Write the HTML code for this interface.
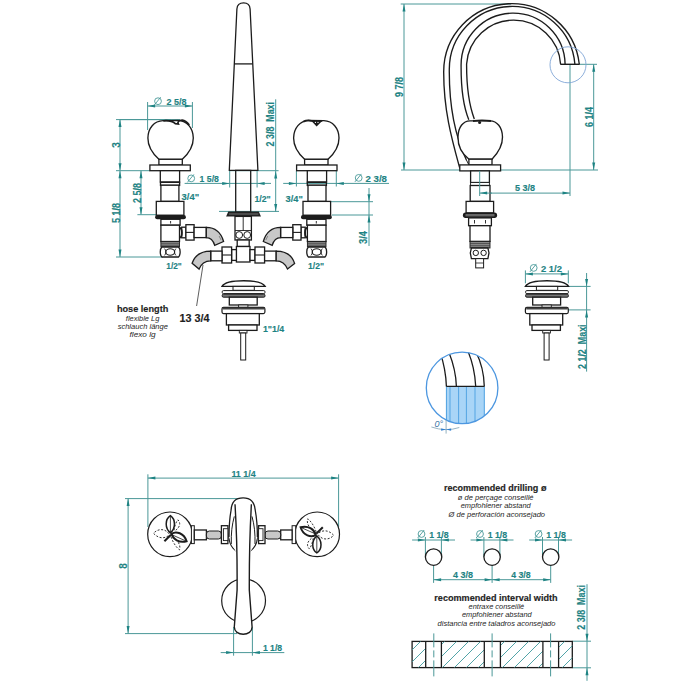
<!DOCTYPE html>
<html><head><meta charset="utf-8"><style>
html,body{margin:0;padding:0;background:#fff;width:700px;height:700px;overflow:hidden}
svg{display:block;font-family:"Liberation Sans",sans-serif}
</style></head><body>
<svg width="700" height="700" viewBox="0 0 700 700">
<line x1="147.6" y1="102.0" x2="147.6" y2="130.0" stroke="#4a9898" stroke-width="1.00" />
<line x1="192.4" y1="102.0" x2="192.4" y2="128.0" stroke="#4a9898" stroke-width="1.00" />
<line x1="147.6" y1="106.0" x2="192.4" y2="106.0" stroke="#4a9898" stroke-width="1.00" />
<polygon points="147.6,106.0 155.1,104.5 155.1,107.5" fill="#1e8383"/>
<polygon points="192.4,106.0 184.9,104.5 184.9,107.5" fill="#1e8383"/>
<circle cx="158.0" cy="101.2" r="3.4" fill="none" stroke="#4a9a9a" stroke-width="0.9"/>
<line x1="154.2" y1="105.2" x2="160.7" y2="97.2" stroke="#4a9a9a" stroke-width="0.90" />
<text x="166.4" y="105.0" font-size="9.50" font-weight="bold" fill="#1e8383" font-style="normal" stroke="#1e8383" stroke-width="0.15" textLength="20.0" lengthAdjust="spacingAndGlyphs">2 5/8</text>
<line x1="116.0" y1="119.6" x2="180.0" y2="119.6" stroke="#4a9898" stroke-width="1.00" />
<line x1="120.0" y1="119.6" x2="170.7" y2="119.6" stroke="#4a9898" stroke-width="1.00" />
<line x1="120.0" y1="119.6" x2="120.0" y2="257.0" stroke="#4a9898" stroke-width="1.00" />
<polygon points="120.0,119.6 118.5,127.1 121.5,127.1" fill="#1e8383"/>
<polygon points="120.0,170.7 118.5,163.2 121.5,163.2" fill="#1e8383"/>
<polygon points="120.0,170.7 118.5,178.2 121.5,178.2" fill="#1e8383"/>
<polygon points="120.0,257.0 118.5,249.5 121.5,249.5" fill="#1e8383"/>
<line x1="116.0" y1="170.7" x2="150.0" y2="170.7" stroke="#4a9898" stroke-width="1.00" />
<text transform="translate(119.6,145.0) rotate(-90)" font-size="10.00" font-weight="bold" fill="#1e8383" text-anchor="middle" stroke="#1e8383" stroke-width="0.15">3</text>
<text transform="translate(119.6,213.0) rotate(-90)" font-size="10.00" font-weight="bold" fill="#1e8383" text-anchor="middle" stroke="#1e8383" stroke-width="0.15" textLength="20.0" lengthAdjust="spacingAndGlyphs">5 1/8</text>
<line x1="116.0" y1="257.0" x2="163.0" y2="257.0" stroke="#4a9898" stroke-width="1.00" />
<line x1="141.0" y1="170.7" x2="141.0" y2="214.7" stroke="#4a9898" stroke-width="1.00" />
<polygon points="141.0,170.7 139.5,178.2 142.5,178.2" fill="#1e8383"/>
<polygon points="141.0,214.7 139.5,207.2 142.5,207.2" fill="#1e8383"/>
<line x1="137.4" y1="214.7" x2="156.0" y2="214.7" stroke="#4a9898" stroke-width="1.00" />
<text transform="translate(140.6,193.0) rotate(-90)" font-size="10.00" font-weight="bold" fill="#1e8383" text-anchor="middle" stroke="#1e8383" stroke-width="0.15" textLength="20.0" lengthAdjust="spacingAndGlyphs">2 5/8</text>
<text x="181.6" y="199.8" font-size="9.50" font-weight="bold" fill="#1e8383" font-style="normal" stroke="#1e8383" stroke-width="0.15" textLength="17.5" lengthAdjust="spacingAndGlyphs">3/4"</text>
<text x="166.3" y="269.1" font-size="9.50" font-weight="bold" fill="#1e8383" font-style="normal" stroke="#1e8383" stroke-width="0.15" textLength="15.5" lengthAdjust="spacingAndGlyphs">1/2"</text>
<line x1="184.6" y1="183.4" x2="271.0" y2="183.4" stroke="#4a9898" stroke-width="1.00" />
<polygon points="229.7,183.4 222.2,181.9 222.2,184.9" fill="#1e8383"/>
<line x1="229.7" y1="171.0" x2="229.7" y2="187.5" stroke="#4a9898" stroke-width="1.00" />
<line x1="257.1" y1="171.0" x2="257.1" y2="187.5" stroke="#4a9898" stroke-width="1.00" />
<polygon points="257.1,183.4 264.6,181.9 264.6,184.9" fill="#1e8383"/>
<circle cx="191.2" cy="178.4" r="3.4" fill="none" stroke="#4a9a9a" stroke-width="0.9"/>
<line x1="187.4" y1="182.4" x2="193.9" y2="174.4" stroke="#4a9a9a" stroke-width="0.90" />
<text x="199.6" y="182.3" font-size="9.50" font-weight="bold" fill="#1e8383" font-style="normal" stroke="#1e8383" stroke-width="0.15" textLength="19.3" lengthAdjust="spacingAndGlyphs">1 5/8</text>
<line x1="229.0" y1="170.7" x2="278.6" y2="170.7" stroke="#4a9898" stroke-width="1.00" />
<line x1="219.0" y1="211.4" x2="279.0" y2="211.4" stroke="#4a9898" stroke-width="1.00" />
<line x1="275.7" y1="99.3" x2="275.7" y2="212.0" stroke="#4a9898" stroke-width="1.00" />
<polygon points="275.7,170.9 274.2,178.4 277.2,178.4" fill="#1e8383"/>
<polygon points="275.7,211.6 274.2,204.1 277.2,204.1" fill="#1e8383"/>
<text transform="translate(273.6,124.2) rotate(-90)" font-size="10.00" font-weight="bold" fill="#1e8383" text-anchor="middle" stroke="#1e8383" stroke-width="0.15" textLength="44.4" lengthAdjust="spacingAndGlyphs">2 3/8&#160;&#160;Maxi</text>
<text x="254.4" y="202.0" font-size="9.50" font-weight="bold" fill="#1e8383" font-style="normal" stroke="#1e8383" stroke-width="0.15" textLength="16.3" lengthAdjust="spacingAndGlyphs">1/2"</text>
<line x1="296.4" y1="171.0" x2="296.4" y2="186.5" stroke="#4a9898" stroke-width="1.00" />
<line x1="336.3" y1="171.0" x2="336.3" y2="186.5" stroke="#4a9898" stroke-width="1.00" />
<line x1="283.2" y1="183.4" x2="389.0" y2="183.4" stroke="#4a9898" stroke-width="1.00" />
<polygon points="296.4,183.4 288.9,181.9 288.9,184.9" fill="#1e8383"/>
<polygon points="336.3,183.4 343.8,181.9 343.8,184.9" fill="#1e8383"/>
<circle cx="358.7" cy="177.9" r="3.4" fill="none" stroke="#4a9a9a" stroke-width="0.9"/>
<line x1="354.9" y1="181.9" x2="361.4" y2="173.9" stroke="#4a9a9a" stroke-width="0.90" />
<text x="365.5" y="181.9" font-size="9.50" font-weight="bold" fill="#1e8383" font-style="normal" stroke="#1e8383" stroke-width="0.15" textLength="21.5" lengthAdjust="spacingAndGlyphs">2 3/8</text>
<text x="285.6" y="202.0" font-size="9.50" font-weight="bold" fill="#1e8383" font-style="normal" stroke="#1e8383" stroke-width="0.15" textLength="17.2" lengthAdjust="spacingAndGlyphs">3/4"</text>
<line x1="331.0" y1="201.7" x2="373.0" y2="201.7" stroke="#4a9898" stroke-width="1.00" />
<line x1="332.0" y1="215.0" x2="373.0" y2="215.0" stroke="#4a9898" stroke-width="1.00" />
<line x1="369.0" y1="188.0" x2="369.0" y2="246.0" stroke="#4a9898" stroke-width="1.00" />
<polygon points="369.0,201.7 367.5,194.2 370.5,194.2" fill="#1e8383"/>
<polygon points="369.0,215.0 367.5,222.5 370.5,222.5" fill="#1e8383"/>
<text transform="translate(367.2,237.5) rotate(-90)" font-size="10.00" font-weight="bold" fill="#1e8383" text-anchor="middle" stroke="#1e8383" stroke-width="0.15" textLength="13.0" lengthAdjust="spacingAndGlyphs">3/4</text>
<text x="308.0" y="269.1" font-size="9.50" font-weight="bold" fill="#1e8383" font-style="normal" stroke="#1e8383" stroke-width="0.15" textLength="16.0" lengthAdjust="spacingAndGlyphs">1/2"</text>
<text x="116.9" y="312.1" font-size="9.50" font-weight="bold" fill="#1e1e1e" font-style="normal" stroke="#1e1e1e" stroke-width="0.15" textLength="51.4" lengthAdjust="spacingAndGlyphs">hose length</text>
<text x="142.6" y="320.7" font-size="7.60" font-weight="normal" fill="#262626" font-style="italic" textLength="33.5" lengthAdjust="spacingAndGlyphs" text-anchor="middle">flexible Lg</text>
<text x="142.8" y="329.0" font-size="7.60" font-weight="normal" fill="#262626" font-style="italic" textLength="50.3" lengthAdjust="spacingAndGlyphs" text-anchor="middle">schlauch länge</text>
<text x="142.6" y="337.3" font-size="7.60" font-weight="normal" fill="#262626" font-style="italic" textLength="26.0" lengthAdjust="spacingAndGlyphs" text-anchor="middle">flexo lg</text>
<text x="179.4" y="321.6" font-size="11.50" font-weight="bold" fill="#1e1e1e" font-style="normal" stroke="#1e1e1e" stroke-width="0.15" textLength="30.0" lengthAdjust="spacingAndGlyphs">13 3/4</text>
<text x="262.9" y="331.8" font-size="9.50" font-weight="bold" fill="#1e8383" font-style="normal" stroke="#1e8383" stroke-width="0.15" textLength="21.4" lengthAdjust="spacingAndGlyphs">1"1/4</text>
<line x1="400.7" y1="4.0" x2="511.0" y2="4.0" stroke="#4a9898" stroke-width="1.00" />
<line x1="404.0" y1="4.0" x2="404.0" y2="170.0" stroke="#4a9898" stroke-width="1.00" />
<polygon points="404.0,4.0 402.5,11.5 405.5,11.5" fill="#1e8383"/>
<polygon points="404.0,170.0 402.5,162.5 405.5,162.5" fill="#1e8383"/>
<line x1="401.0" y1="170.0" x2="598.0" y2="170.0" stroke="#4a9898" stroke-width="1.00" />
<text transform="translate(402.6,87.0) rotate(-90)" font-size="10.00" font-weight="bold" fill="#1e8383" text-anchor="middle" stroke="#1e8383" stroke-width="0.15" textLength="20.0" lengthAdjust="spacingAndGlyphs">9 7/8</text>
<line x1="579.7" y1="64.3" x2="597.0" y2="64.3" stroke="#4a9898" stroke-width="1.00" />
<line x1="593.7" y1="64.3" x2="593.7" y2="170.0" stroke="#4a9898" stroke-width="1.00" />
<polygon points="593.7,64.3 592.2,71.8 595.2,71.8" fill="#1e8383"/>
<polygon points="593.7,170.0 592.2,162.5 595.2,162.5" fill="#1e8383"/>
<text transform="translate(592.6,117.0) rotate(-90)" font-size="10.00" font-weight="bold" fill="#1e8383" text-anchor="middle" stroke="#1e8383" stroke-width="0.15" textLength="20.0" lengthAdjust="spacingAndGlyphs">6 1/4</text>
<line x1="570.0" y1="64.3" x2="570.0" y2="196.0" stroke="#4a9898" stroke-width="1.00" />
<line x1="479.7" y1="170.0" x2="479.7" y2="196.0" stroke="#4a9898" stroke-width="1.00" />
<line x1="479.7" y1="193.1" x2="570.0" y2="193.1" stroke="#4a9898" stroke-width="1.00" />
<polygon points="479.7,193.1 487.2,191.6 487.2,194.6" fill="#1e8383"/>
<polygon points="570.0,193.1 562.5,191.6 562.5,194.6" fill="#1e8383"/>
<text x="515.0" y="191.2" font-size="9.50" font-weight="bold" fill="#1e8383" font-style="normal" stroke="#1e8383" stroke-width="0.15" textLength="20.0" lengthAdjust="spacingAndGlyphs">5 3/8</text>
<line x1="525.4" y1="270.4" x2="525.4" y2="283.3" stroke="#4a9898" stroke-width="1.00" />
<line x1="568.3" y1="270.4" x2="568.3" y2="283.3" stroke="#4a9898" stroke-width="1.00" />
<line x1="525.4" y1="273.9" x2="568.3" y2="273.9" stroke="#4a9898" stroke-width="1.00" />
<polygon points="525.4,273.9 532.9,272.4 532.9,275.4" fill="#1e8383"/>
<polygon points="568.3,273.9 560.8,272.4 560.8,275.4" fill="#1e8383"/>
<circle cx="533.7" cy="267.9" r="3.4" fill="none" stroke="#4a9a9a" stroke-width="0.9"/>
<line x1="529.9" y1="271.9" x2="536.4" y2="263.9" stroke="#4a9a9a" stroke-width="0.90" />
<text x="541.0" y="271.8" font-size="9.50" font-weight="bold" fill="#1e8383" font-style="normal" stroke="#1e8383" stroke-width="0.15" textLength="21.0" lengthAdjust="spacingAndGlyphs">2 1/2</text>
<line x1="568.0" y1="286.4" x2="590.6" y2="286.4" stroke="#4a9898" stroke-width="1.00" />
<line x1="568.0" y1="309.9" x2="590.6" y2="309.9" stroke="#4a9898" stroke-width="1.00" />
<line x1="586.6" y1="273.0" x2="586.6" y2="371.6" stroke="#4a9898" stroke-width="1.00" />
<polygon points="586.6,286.4 585.1,278.9 588.1,278.9" fill="#1e8383"/>
<polygon points="586.6,309.9 585.1,317.4 588.1,317.4" fill="#1e8383"/>
<text transform="translate(585.6,346.7) rotate(-90)" font-size="10.00" font-weight="bold" fill="#1e8383" text-anchor="middle" stroke="#1e8383" stroke-width="0.15" textLength="44.6" lengthAdjust="spacingAndGlyphs">2 1/2&#160;&#160;Maxi</text>
<line x1="147.9" y1="474.3" x2="147.9" y2="527.0" stroke="#4a9898" stroke-width="1.00" />
<line x1="338.6" y1="474.3" x2="338.6" y2="527.0" stroke="#4a9898" stroke-width="1.00" />
<line x1="147.9" y1="478.1" x2="338.6" y2="478.1" stroke="#4a9898" stroke-width="1.00" />
<polygon points="147.9,478.1 155.4,476.6 155.4,479.6" fill="#1e8383"/>
<polygon points="338.6,478.1 331.1,476.6 331.1,479.6" fill="#1e8383"/>
<text x="231.4" y="477.2" font-size="9.50" font-weight="bold" fill="#1e8383" font-style="normal" stroke="#1e8383" stroke-width="0.15" textLength="24.3" lengthAdjust="spacingAndGlyphs">11 1/4</text>
<line x1="125.0" y1="498.6" x2="243.0" y2="498.6" stroke="#4a9898" stroke-width="1.00" />
<line x1="125.0" y1="633.6" x2="237.0" y2="633.6" stroke="#4a9898" stroke-width="1.00" />
<line x1="128.1" y1="498.6" x2="128.1" y2="633.6" stroke="#4a9898" stroke-width="1.00" />
<polygon points="128.1,498.6 126.6,506.1 129.6,506.1" fill="#1e8383"/>
<polygon points="128.1,633.6 126.6,626.1 129.6,626.1" fill="#1e8383"/>
<text transform="translate(127.1,566.0) rotate(-90)" font-size="10.00" font-weight="bold" fill="#1e8383" text-anchor="middle" stroke="#1e8383" stroke-width="0.15">8</text>
<line x1="233.6" y1="627.0" x2="233.6" y2="655.7" stroke="#4a9898" stroke-width="1.00" />
<line x1="252.4" y1="627.0" x2="252.4" y2="655.7" stroke="#4a9898" stroke-width="1.00" />
<line x1="220.7" y1="652.6" x2="284.3" y2="652.6" stroke="#4a9898" stroke-width="1.00" />
<polygon points="233.6,652.6 226.1,651.1 226.1,654.1" fill="#1e8383"/>
<polygon points="252.4,652.6 259.9,651.1 259.9,654.1" fill="#1e8383"/>
<text x="262.9" y="651.2" font-size="9.50" font-weight="bold" fill="#1e8383" font-style="normal" stroke="#1e8383" stroke-width="0.15" textLength="19.2" lengthAdjust="spacingAndGlyphs">1 1/8</text>
<text x="444.0" y="491.0" font-size="9.00" font-weight="bold" fill="#1e1e1e" font-style="normal" stroke="#1e1e1e" stroke-width="0.15" textLength="102.4" lengthAdjust="spacingAndGlyphs">recommended drilling ø</text>
<text x="495.7" y="500.4" font-size="7.50" font-weight="normal" fill="#262626" font-style="italic" textLength="75.7" lengthAdjust="spacingAndGlyphs" text-anchor="middle">ø de perçage conseillé</text>
<text x="495.7" y="508.3" font-size="7.50" font-weight="normal" fill="#262626" font-style="italic" textLength="70.0" lengthAdjust="spacingAndGlyphs" text-anchor="middle">empfohlener abstand</text>
<text x="496.8" y="516.5" font-size="7.50" font-weight="normal" fill="#262626" font-style="italic" textLength="96.4" lengthAdjust="spacingAndGlyphs" text-anchor="middle">Ø de perforación aconsejado</text>
<line x1="412.1" y1="540.0" x2="455.0" y2="540.0" stroke="#4a9898" stroke-width="1.00" />
<line x1="425.4" y1="537.0" x2="425.4" y2="557.0" stroke="#4a9898" stroke-width="1.00" />
<line x1="441.4" y1="537.0" x2="441.4" y2="557.0" stroke="#4a9898" stroke-width="1.00" />
<polygon points="425.4,540.0 417.9,538.5 417.9,541.5" fill="#1e8383"/>
<polygon points="441.4,540.0 448.9,538.5 448.9,541.5" fill="#1e8383"/>
<circle cx="421.5" cy="534.0" r="3.4" fill="none" stroke="#4a9a9a" stroke-width="0.9"/>
<line x1="417.7" y1="538.0" x2="424.2" y2="530.0" stroke="#4a9a9a" stroke-width="0.90" />
<text x="429.2" y="538.4" font-size="9.50" font-weight="bold" fill="#1e8383" font-style="normal" stroke="#1e8383" stroke-width="0.15" textLength="19.5" lengthAdjust="spacingAndGlyphs">1 1/8</text>
<line x1="433.6" y1="565.7" x2="433.6" y2="582.9" stroke="#4a9898" stroke-width="1.00" />
<line x1="470.6" y1="540.0" x2="513.5" y2="540.0" stroke="#4a9898" stroke-width="1.00" />
<line x1="483.9" y1="537.0" x2="483.9" y2="557.0" stroke="#4a9898" stroke-width="1.00" />
<line x1="499.9" y1="537.0" x2="499.9" y2="557.0" stroke="#4a9898" stroke-width="1.00" />
<polygon points="483.9,540.0 476.4,538.5 476.4,541.5" fill="#1e8383"/>
<polygon points="499.9,540.0 507.4,538.5 507.4,541.5" fill="#1e8383"/>
<circle cx="480.0" cy="534.0" r="3.4" fill="none" stroke="#4a9a9a" stroke-width="0.9"/>
<line x1="476.2" y1="538.0" x2="482.7" y2="530.0" stroke="#4a9a9a" stroke-width="0.90" />
<text x="487.7" y="538.4" font-size="9.50" font-weight="bold" fill="#1e8383" font-style="normal" stroke="#1e8383" stroke-width="0.15" textLength="19.5" lengthAdjust="spacingAndGlyphs">1 1/8</text>
<line x1="492.1" y1="565.7" x2="492.1" y2="582.9" stroke="#4a9898" stroke-width="1.00" />
<line x1="529.2" y1="540.0" x2="572.1" y2="540.0" stroke="#4a9898" stroke-width="1.00" />
<line x1="542.5" y1="537.0" x2="542.5" y2="557.0" stroke="#4a9898" stroke-width="1.00" />
<line x1="558.5" y1="537.0" x2="558.5" y2="557.0" stroke="#4a9898" stroke-width="1.00" />
<polygon points="542.5,540.0 535.0,538.5 535.0,541.5" fill="#1e8383"/>
<polygon points="558.5,540.0 566.0,538.5 566.0,541.5" fill="#1e8383"/>
<circle cx="538.6" cy="534.0" r="3.4" fill="none" stroke="#4a9a9a" stroke-width="0.9"/>
<line x1="534.8" y1="538.0" x2="541.3" y2="530.0" stroke="#4a9a9a" stroke-width="0.90" />
<text x="546.3" y="538.4" font-size="9.50" font-weight="bold" fill="#1e8383" font-style="normal" stroke="#1e8383" stroke-width="0.15" textLength="19.5" lengthAdjust="spacingAndGlyphs">1 1/8</text>
<line x1="550.7" y1="565.7" x2="550.7" y2="582.9" stroke="#4a9898" stroke-width="1.00" />
<line x1="433.6" y1="579.7" x2="550.7" y2="579.7" stroke="#4a9898" stroke-width="1.00" />
<polygon points="433.6,579.7 441.1,578.2 441.1,581.2" fill="#1e8383"/>
<polygon points="492.1,579.7 484.6,578.2 484.6,581.2" fill="#1e8383"/>
<polygon points="492.1,579.7 499.6,578.2 499.6,581.2" fill="#1e8383"/>
<polygon points="550.7,579.7 543.2,578.2 543.2,581.2" fill="#1e8383"/>
<text x="452.9" y="577.9" font-size="9.50" font-weight="bold" fill="#1e8383" font-style="normal" stroke="#1e8383" stroke-width="0.15" textLength="20.0" lengthAdjust="spacingAndGlyphs">4 3/8</text>
<text x="511.2" y="577.9" font-size="9.50" font-weight="bold" fill="#1e8383" font-style="normal" stroke="#1e8383" stroke-width="0.15" textLength="19.5" lengthAdjust="spacingAndGlyphs">4 3/8</text>
<text x="434.3" y="600.7" font-size="9.00" font-weight="bold" fill="#1e1e1e" font-style="normal" stroke="#1e1e1e" stroke-width="0.15" textLength="123.3" lengthAdjust="spacingAndGlyphs">recommended interval width</text>
<text x="496.4" y="609.3" font-size="7.50" font-weight="normal" fill="#262626" font-style="italic" textLength="55.6" lengthAdjust="spacingAndGlyphs" text-anchor="middle">entraxe conseillé</text>
<text x="496.8" y="617.1" font-size="7.50" font-weight="normal" fill="#262626" font-style="italic" textLength="69.7" lengthAdjust="spacingAndGlyphs" text-anchor="middle">empfohlener abstand</text>
<text x="496.5" y="625.7" font-size="7.50" font-weight="normal" fill="#262626" font-style="italic" textLength="117.8" lengthAdjust="spacingAndGlyphs" text-anchor="middle">distancia entre taladros aconsejado</text>
<line x1="572.5" y1="641.2" x2="591.0" y2="641.2" stroke="#4a9898" stroke-width="1.00" />
<line x1="572.5" y1="667.8" x2="591.0" y2="667.8" stroke="#4a9898" stroke-width="1.00" />
<line x1="587.0" y1="584.2" x2="587.0" y2="680.8" stroke="#4a9898" stroke-width="1.00" />
<polygon points="587.0,641.2 585.5,633.7 588.5,633.7" fill="#1e8383"/>
<polygon points="587.0,667.8 585.5,675.3 588.5,675.3" fill="#1e8383"/>
<text transform="translate(585.4,607.4) rotate(-90)" font-size="10.00" font-weight="bold" fill="#1e8383" text-anchor="middle" stroke="#1e8383" stroke-width="0.15" textLength="44.7" lengthAdjust="spacingAndGlyphs">2 3/8&#160;&#160;Maxi</text>
<g transform="translate(170.1,0) scale(1,1)">
<path d="M -11.2,159.3 C -17,154 -22.3,148 -22.2,138 C -22,128 -16,121 -7,120.6 L 8,120.4 C 17,121 23,128 23.2,138 C 23.2,147 18,154 12.2,159.3 Z" fill="#fff" stroke="#1c1c1c" stroke-width="1.35" />
<path d="M -6.8,120.8 C -2,120.3 2,120.8 5.2,123.6 L 8.2,124 C 7.2,122 8.2,120.5 12.2,120.2 C 15.2,120.5 17.2,122.5 19.2,125" fill="none" stroke="#1c1c1c" stroke-width="1.70" />
<rect x="-11.2" y="159.3" width="23.4" height="5.7" fill="#fff" stroke="#1c1c1c" stroke-width="1.30" />
<rect x="-20.2" y="165.0" width="40.4" height="5.7" fill="#fff" stroke="#1c1c1c" stroke-width="1.30" />
<rect x="-9.8" y="170.7" width="19.3" height="11.3" fill="#fff" stroke="#1c1c1c" stroke-width="1.30" />
<rect x="-9.6" y="182.3" width="19.1" height="3.1" fill="none" stroke="#1c1c1c" stroke-width="1.35" />
<rect x="-9.2" y="185.2" width="18.0" height="16.2" fill="#fff" stroke="#1c1c1c" stroke-width="1.30" />
<rect x="-13.8" y="201.4" width="27.6" height="13.8" fill="#fff" stroke="#1c1c1c" stroke-width="1.30" />
<rect x="-15" y="214.9" width="30.8" height="4.4" rx="2" fill="#1c1c1c"/>
<rect x="-9.2" y="219.3" width="19.2" height="5.9" fill="#fff" stroke="#1c1c1c" stroke-width="1.30" />
<line x1="0.5" y1="221.0" x2="0.5" y2="223.5" stroke="#1c1c1c" stroke-width="0.90" />
<rect x="-9.2" y="225.2" width="18.6" height="16.3" fill="#fff" stroke="#1c1c1c" stroke-width="1.30" />
<rect x="-9.2" y="241.5" width="18.6" height="5.5" fill="#888" stroke="#1c1c1c" stroke-width="0.90" />
<line x1="-9.2" y1="243.3" x2="9.4" y2="243.3" stroke="#333" stroke-width="0.60" />
<line x1="-9.2" y1="245.2" x2="9.4" y2="245.2" stroke="#333" stroke-width="0.60" />
<path d="M -8.2,247 L 8.4,247 C 10.6,249 10.6,255 8.4,257 L -8.2,257 C -10.4,255 -10.4,249 -8.2,247 Z" fill="#fff" stroke="#1c1c1c" stroke-width="1.30" />
<ellipse cx="0.1" cy="252" rx="4.4" ry="3.3" fill="#fff" stroke="#1c1c1c" stroke-width="1.1"/>
<path d="M -5.6,248.6 C -3.8,250 -3.8,254 -5.6,255.4" fill="none" stroke="#1c1c1c" stroke-width="0.90" />
<path d="M 5.8,248.6 C 4,250 4,254 5.8,255.4" fill="none" stroke="#1c1c1c" stroke-width="0.90" />
<rect x="11.6" y="227.2" width="4.2" height="10.6" fill="#fff" stroke="#1c1c1c" stroke-width="1.30" />
<path d="M 9.4,227.6 C 12.6,228.5 12.6,237 9.4,237.8" fill="none" stroke="#1c1c1c" stroke-width="1.80" />
<rect x="15.8" y="224.7" width="8.2" height="15.4" fill="#fff" stroke="#1c1c1c" stroke-width="1.30" />
<line x1="15.8" y1="232.4" x2="24.0" y2="232.4" stroke="#1c1c1c" stroke-width="1.10" />
<rect x="24.0" y="227.4" width="12.2" height="10.2" fill="#fff" stroke="#1c1c1c" stroke-width="1.30" />
<path d="M 36.2,227.4 C 45,227.4 51,233 53.5,241.5 L 44.6,245.3 C 43,240 40,237.6 36.2,237.6 Z" fill="#c8c8c8" stroke="#1c1c1c" stroke-width="1.30" />
<line x1="49.0" y1="236.0" x2="51.0" y2="240.0" stroke="#555" stroke-width="0.60" />
</g>
<g transform="translate(316.8,0) scale(-1,1)">
<path d="M -11.2,159.3 C -17,154 -22.3,148 -22.2,138 C -22,128 -16,121 -7,120.6 L 8,120.4 C 17,121 23,128 23.2,138 C 23.2,147 18,154 12.2,159.3 Z" fill="#fff" stroke="#1c1c1c" stroke-width="1.35" />
<rect x="-11.2" y="159.3" width="23.4" height="5.7" fill="#fff" stroke="#1c1c1c" stroke-width="1.30" />
<rect x="-20.2" y="165.0" width="40.4" height="5.7" fill="#fff" stroke="#1c1c1c" stroke-width="1.30" />
<rect x="-9.8" y="170.7" width="19.3" height="11.3" fill="#fff" stroke="#1c1c1c" stroke-width="1.30" />
<rect x="-9.6" y="182.3" width="19.1" height="3.1" fill="none" stroke="#1c1c1c" stroke-width="1.35" />
<rect x="-9.2" y="185.2" width="18.0" height="16.2" fill="#fff" stroke="#1c1c1c" stroke-width="1.30" />
<rect x="-13.8" y="201.4" width="27.6" height="13.8" fill="#fff" stroke="#1c1c1c" stroke-width="1.30" />
<rect x="-15" y="214.9" width="30.8" height="4.4" rx="2" fill="#1c1c1c"/>
<rect x="-9.2" y="219.3" width="19.2" height="5.9" fill="#fff" stroke="#1c1c1c" stroke-width="1.30" />
<line x1="0.5" y1="221.0" x2="0.5" y2="223.5" stroke="#1c1c1c" stroke-width="0.90" />
<rect x="-9.2" y="225.2" width="18.6" height="16.3" fill="#fff" stroke="#1c1c1c" stroke-width="1.30" />
<rect x="-9.2" y="241.5" width="18.6" height="5.5" fill="#888" stroke="#1c1c1c" stroke-width="0.90" />
<line x1="-9.2" y1="243.3" x2="9.4" y2="243.3" stroke="#333" stroke-width="0.60" />
<line x1="-9.2" y1="245.2" x2="9.4" y2="245.2" stroke="#333" stroke-width="0.60" />
<path d="M -8.2,247 L 8.4,247 C 10.6,249 10.6,255 8.4,257 L -8.2,257 C -10.4,255 -10.4,249 -8.2,247 Z" fill="#fff" stroke="#1c1c1c" stroke-width="1.30" />
<ellipse cx="0.1" cy="252" rx="4.4" ry="3.3" fill="#fff" stroke="#1c1c1c" stroke-width="1.1"/>
<path d="M -5.6,248.6 C -3.8,250 -3.8,254 -5.6,255.4" fill="none" stroke="#1c1c1c" stroke-width="0.90" />
<path d="M 5.8,248.6 C 4,250 4,254 5.8,255.4" fill="none" stroke="#1c1c1c" stroke-width="0.90" />
<rect x="11.6" y="227.2" width="4.2" height="10.6" fill="#fff" stroke="#1c1c1c" stroke-width="1.30" />
<path d="M 9.4,227.6 C 12.6,228.5 12.6,237 9.4,237.8" fill="none" stroke="#1c1c1c" stroke-width="1.80" />
<rect x="15.8" y="224.7" width="8.2" height="15.4" fill="#fff" stroke="#1c1c1c" stroke-width="1.30" />
<line x1="15.8" y1="232.4" x2="24.0" y2="232.4" stroke="#1c1c1c" stroke-width="1.10" />
<rect x="24.0" y="227.4" width="12.2" height="10.2" fill="#fff" stroke="#1c1c1c" stroke-width="1.30" />
<path d="M 36.2,227.4 C 45,227.4 51,233 53.5,241.5 L 44.6,245.3 C 43,240 40,237.6 36.2,237.6 Z" fill="#c8c8c8" stroke="#1c1c1c" stroke-width="1.30" />
<line x1="49.0" y1="236.0" x2="51.0" y2="240.0" stroke="#555" stroke-width="0.60" />
</g>
<path d="M 303.5,121.6 C 306,120.3 309,120.3 311.4,120.8 L 322.3,120.8" fill="none" stroke="#1c1c1c" stroke-width="1.80" />
<path d="M 311,120.5 L 322.6,120.5 L 316.6,126.6 Z" fill="#1c1c1c"/>
<circle cx="315.4" cy="122.4" r="0.6" fill="#fff"/><circle cx="318" cy="122.4" r="0.6" fill="#fff"/>
<path d="M 229.3,170.4 L 236.9,9 C 237.2,4.5 240,2.9 243.6,2.9 C 247.2,2.9 249.8,4.5 250.1,9 L 257.9,170.4 Z" fill="#fff" stroke="#1c1c1c" stroke-width="1.30" />
<line x1="234.3" y1="63.9" x2="252.6" y2="63.9" stroke="#1c1c1c" stroke-width="1.30" />
<rect x="235.7" y="170.4" width="15.0" height="41.8" fill="none" stroke="#1c1c1c" stroke-width="1.30" />
<path d="M 228.3,211.6 L 258.8,211.6 L 261,216.6 L 226.1,216.6 Z" fill="#222"/>
<rect x="229" y="213.2" width="29.4" height="1.6" fill="#555"/>
<rect x="235.0" y="216.4" width="16.4" height="23.6" fill="#fff" stroke="#1c1c1c" stroke-width="1.30" />
<line x1="243.2" y1="216.4" x2="243.2" y2="231.0" stroke="#1c1c1c" stroke-width="0.90" />
<circle cx="239.2" cy="235" r="3.4" fill="none" stroke="#1c1c1c" stroke-width="1"/>
<circle cx="247.2" cy="235" r="3.4" fill="none" stroke="#1c1c1c" stroke-width="1"/>
<line x1="235.0" y1="230.5" x2="251.4" y2="230.5" stroke="#1c1c1c" stroke-width="0.90" />
<rect x="237.2" y="240.0" width="12.0" height="6.5" fill="#fff" stroke="#1c1c1c" stroke-width="1.30" />
<rect x="236.4" y="246.5" width="13.6" height="15.5" fill="#fff" stroke="#1c1c1c" stroke-width="1.30" />
<rect x="231.6" y="249.6" width="4.8" height="10.8" fill="#fff" stroke="#1c1c1c" stroke-width="1.30" />
<rect x="222.0" y="247.0" width="9.6" height="16.0" fill="#fff" stroke="#1c1c1c" stroke-width="1.30" />
<line x1="222.0" y1="255.0" x2="231.6" y2="255.0" stroke="#1c1c1c" stroke-width="1.10" />
<rect x="210.7" y="251.1" width="11.3" height="9.7" fill="#fff" stroke="#1c1c1c" stroke-width="1.30" />
<path d="M 210.7,251.1 C 202,251.1 195,255 192.1,263.3 L 199.1,269.1 C 201,264 205,260.8 210.7,260.8 Z" fill="#c8c8c8" stroke="#1c1c1c" stroke-width="1.30" />
<rect x="250.0" y="249.6" width="5.0" height="10.8" fill="#fff" stroke="#1c1c1c" stroke-width="1.30" />
<rect x="255.0" y="247.0" width="9.6" height="16.0" fill="#fff" stroke="#1c1c1c" stroke-width="1.30" />
<line x1="255.0" y1="255.0" x2="264.6" y2="255.0" stroke="#1c1c1c" stroke-width="1.10" />
<rect x="264.6" y="251.1" width="11.6" height="9.7" fill="#fff" stroke="#1c1c1c" stroke-width="1.30" />
<path d="M 276.2,251.1 C 285,251.1 292,255 294.6,263.5 L 287.5,269 C 285.5,264 281.5,260.8 276.2,260.8 Z" fill="#c8c8c8" stroke="#1c1c1c" stroke-width="1.30" />
<line x1="203.0" y1="265.0" x2="196.6" y2="306.0" stroke="#333" stroke-width="0.80" />
<g transform="translate(243.6,0)">
<path d="M -21.6,286.4 C -19,282 -10,280.7 0,280.7 C 10,280.7 19,282 21.6,286.4 Z" fill="#fff" stroke="#1c1c1c" stroke-width="1.35" />
<rect x="-10.6" y="286.4" width="21.3" height="3.9" fill="#fff" stroke="#1c1c1c" stroke-width="1.00" />
<rect x="-21.4" y="290.6" width="42.8" height="3" rx="1.2" fill="#fff" stroke="#1c1c1c" stroke-width="1"/>
<rect x="-21.4" y="294.2" width="42.8" height="3" rx="1.2" fill="#777" stroke="#1c1c1c" stroke-width="1"/>
<rect x="-14.3" y="297.2" width="27.9" height="7.8" fill="#fff" stroke="#1c1c1c" stroke-width="1.30" />
<rect x="-5.0" y="305.0" width="9.3" height="2.4" fill="#fff" stroke="#1c1c1c" stroke-width="0.90" />
<rect x="-21.6" y="307.4" width="42.9" height="6.2" rx="1.5" fill="#fff" stroke="#1c1c1c" stroke-width="1.2"/>
<rect x="-20.8" y="307.6" width="41.6" height="1.9" fill="#444" stroke="#1c1c1c" stroke-width="0.00" />
<rect x="-17.2" y="313.6" width="32.9" height="11.4" fill="#fff" stroke="#1c1c1c" stroke-width="1.30" />
<rect x="-15.0" y="325.0" width="28.4" height="5.4" fill="#fff" stroke="#1c1c1c" stroke-width="1.30" />
<rect x="-4.3" y="330.4" width="7.7" height="2.6" fill="#fff" stroke="#1c1c1c" stroke-width="0.90" />
<rect x="-2.9" y="333.0" width="5.0" height="27.0" fill="#fff" stroke="#1c1c1c" stroke-width="1.00" />
</g>
<g transform="translate(547.0,0)">
<path d="M -21.6,286.4 C -19,282 -10,280.7 0,280.7 C 10,280.7 19,282 21.6,286.4 Z" fill="#fff" stroke="#1c1c1c" stroke-width="1.35" />
<rect x="-10.6" y="286.4" width="21.3" height="3.9" fill="#fff" stroke="#1c1c1c" stroke-width="1.00" />
<rect x="-21.4" y="290.6" width="42.8" height="3" rx="1.2" fill="#fff" stroke="#1c1c1c" stroke-width="1"/>
<rect x="-21.4" y="294.2" width="42.8" height="3" rx="1.2" fill="#777" stroke="#1c1c1c" stroke-width="1"/>
<rect x="-14.3" y="297.2" width="27.9" height="7.8" fill="#fff" stroke="#1c1c1c" stroke-width="1.30" />
<rect x="-5.0" y="305.0" width="9.3" height="2.4" fill="#fff" stroke="#1c1c1c" stroke-width="0.90" />
<rect x="-21.6" y="307.4" width="42.9" height="6.2" rx="1.5" fill="#fff" stroke="#1c1c1c" stroke-width="1.2"/>
<rect x="-20.8" y="307.6" width="41.6" height="1.9" fill="#444" stroke="#1c1c1c" stroke-width="0.00" />
<rect x="-17.2" y="313.6" width="32.9" height="11.4" fill="#fff" stroke="#1c1c1c" stroke-width="1.30" />
<rect x="-15.0" y="325.0" width="28.4" height="5.4" fill="#fff" stroke="#1c1c1c" stroke-width="1.30" />
<rect x="-4.3" y="330.4" width="7.7" height="2.6" fill="#fff" stroke="#1c1c1c" stroke-width="0.90" />
<rect x="-2.9" y="333.0" width="5.0" height="27.0" fill="#fff" stroke="#1c1c1c" stroke-width="1.00" />
</g>
<path d="M 459.8,168.4 C 452,140 443.5,110 443.7,71.4 A 68,68 0 0 1 579.3,64.3" fill="none" stroke="#1c1c1c" stroke-width="1.35" />
<path d="M 466.4,160 C 456,138 449,108 449.3,69.3 A 62.9,62.9 0 0 1 574.9,64.3" fill="none" stroke="#1c1c1c" stroke-width="1.35" />
<path d="M 468.8,119.7 C 464,108 461,90 461.1,66 A 52,52 0 0 1 565.1,64.3" fill="none" stroke="#1c1c1c" stroke-width="1.35" />
<path d="M 474.3,118.9 C 469.5,106 466.5,88 466.6,64 A 47.1,47.1 0 0 1 560.6,64.3" fill="none" stroke="#1c1c1c" stroke-width="1.35" />
<line x1="560.3" y1="64.3" x2="579.7" y2="64.3" stroke="#1c1c1c" stroke-width="1.40" />
<path d="M 469,159.2 C 461,153 457.8,146 458,137 C 458.2,127 463,121 470,120.8 L 490,120.8 C 497,121 502.3,127 502.5,137 C 502.6,146 498,153 492,159.2 Z" fill="#fff" stroke="#1c1c1c" stroke-width="1.35" />
<path d="M 473,121 C 478,120.4 486,120.4 491,121" fill="none" stroke="#1c1c1c" stroke-width="1.80" />
<circle cx="479.6" cy="122.5" r="1.5" fill="#1c1c1c"/>
<rect x="468.9" y="159.2" width="23.1" height="5.7" fill="#fff" stroke="#1c1c1c" stroke-width="1.30" />
<line x1="466.4" y1="160.0" x2="468.9" y2="164.9" stroke="#1c1c1c" stroke-width="1.00" />
<rect x="459.8" y="164.9" width="40.8" height="6.0" fill="#fff" stroke="#1c1c1c" stroke-width="1.30" />
<rect x="470.6" y="170.9" width="18.8" height="11.6" fill="#fff" stroke="#1c1c1c" stroke-width="1.30" />
<rect x="470.6" y="182.5" width="18.8" height="3.0" fill="#fff" stroke="#1c1c1c" stroke-width="0.90" />
<rect x="470.2" y="185.5" width="19.8" height="15.9" fill="#fff" stroke="#1c1c1c" stroke-width="1.30" />
<rect x="466.1" y="201.4" width="27.5" height="11.5" fill="#fff" stroke="#1c1c1c" stroke-width="1.30" />
<rect x="462.9" y="212.6" width="34.2" height="5.3" rx="2.6" fill="#1c1c1c"/>
<rect x="465.5" y="214" width="29" height="2.4" fill="#666"/>
<rect x="468.6" y="217.9" width="22.8" height="7.8" fill="#fff" stroke="#1c1c1c" stroke-width="1.30" />
<line x1="474.5" y1="220.0" x2="474.5" y2="223.5" stroke="#1c1c1c" stroke-width="0.90" />
<line x1="485.5" y1="220.0" x2="485.5" y2="223.5" stroke="#1c1c1c" stroke-width="0.90" />
<rect x="470.0" y="225.7" width="20.0" height="15.7" fill="#fff" stroke="#1c1c1c" stroke-width="1.30" />
<rect x="470.0" y="241.4" width="20.0" height="6.6" fill="#888" stroke="#1c1c1c" stroke-width="0.90" />
<line x1="470.0" y1="243.5" x2="490.0" y2="243.5" stroke="#333" stroke-width="0.60" />
<line x1="470.0" y1="245.7" x2="490.0" y2="245.7" stroke="#333" stroke-width="0.60" />
<path d="M 471.4,248 L 487.9,248 L 489,252.9 L 487.9,258.6 L 471.4,258.6 L 470.3,252.9 Z" fill="#fff" stroke="#1c1c1c" stroke-width="1.30" />
<circle cx="475.8" cy="252.9" r="2.7" fill="none" stroke="#1c1c1c" stroke-width="1"/>
<circle cx="483.6" cy="252.9" r="2.7" fill="none" stroke="#1c1c1c" stroke-width="1"/>
<rect x="475.7" y="258.6" width="7.9" height="9.3" fill="#fff" stroke="#1c1c1c" stroke-width="1.00" />
<line x1="475.7" y1="263.0" x2="483.6" y2="263.0" stroke="#1c1c1c" stroke-width="0.80" />
<circle cx="568" cy="64.8" r="18" fill="none" stroke="#7fa5d6" stroke-width="0.9"/>
<defs><clipPath id="dc"><circle cx="462.1" cy="387.9" r="35.8"/></clipPath></defs>
<g clip-path="url(#dc)">
<rect x="446.4" y="386.4" width="37.9" height="40" fill="#a9d5f7"/>
<line x1="450.0" y1="386.4" x2="450.0" y2="426.0" stroke="#4b9fe0" stroke-width="0.90" />
<line x1="458.6" y1="386.4" x2="458.6" y2="426.0" stroke="#4b9fe0" stroke-width="0.90" />
<line x1="466.4" y1="386.4" x2="466.4" y2="426.0" stroke="#4b9fe0" stroke-width="0.90" />
<line x1="475.0" y1="386.4" x2="475.0" y2="426.0" stroke="#4b9fe0" stroke-width="0.90" />
<line x1="446.4" y1="386.4" x2="446.4" y2="426.0" stroke="#4b9fe0" stroke-width="1.00" />
<line x1="484.3" y1="386.4" x2="484.3" y2="426.0" stroke="#4b9fe0" stroke-width="1.00" />
<path d="M 446.4,386.4 C 446,375 444.5,365 440,352" fill="none" stroke="#1c1c1c" stroke-width="1.30" />
<path d="M 456.4,386.4 C 456,373 453,362 448,350" fill="none" stroke="#1c1c1c" stroke-width="1.30" />
<path d="M 475.7,386.4 C 475,372 472,360 467,349" fill="none" stroke="#1c1c1c" stroke-width="1.30" />
<path d="M 484.3,386.4 C 484,373 481,362 476,352" fill="none" stroke="#1c1c1c" stroke-width="1.30" />
<line x1="446.4" y1="386.4" x2="484.3" y2="386.4" stroke="#1c1c1c" stroke-width="1.40" />
</g>
<circle cx="462.1" cy="387.9" r="35.8" fill="none" stroke="#4d97e0" stroke-width="1.3"/>
<line x1="446.1" y1="420.0" x2="446.1" y2="433.6" stroke="#7b9fb3" stroke-width="0.80" />
<path d="M 431.4,427 Q 446,432 459.3,427.5" fill="none" stroke="#7b9fb3" stroke-width="0.80" />
<polygon points="446.1,429.6 441.1,428.5 441.1,430.7" fill="#2f7fd0"/>
<polygon points="446.1,429.6 451.1,428.5 451.1,430.7" fill="#2f7fd0"/>
<text x="434.6" y="426.8" font-size="9.00" font-weight="normal" fill="#3d78a8" font-style="italic">0°</text>
<g transform="translate(170.0,534.3) rotate(0)">
<circle cx="0" cy="0" r="22.3" fill="#fff" stroke="#1c1c1c" stroke-width="1.2"/>
<path d="M 0.4,-1.5 C -5.2,-6 -5.2,-15 0.4,-18.6 C 5.8,-15 5.8,-6 0.4,-1.5 Z" fill="#fff" stroke="#1c1c1c" stroke-width="1.50" />
<line x1="0.4" y1="-2.0" x2="0.4" y2="-18.0" stroke="#1c1c1c" stroke-width="0.80" />
<path d="M 1.5,-0.5 C 6,-3.5 14,-1.5 16.6,7 C 9,9 3,5 1.5,-0.5 Z" fill="#fff" stroke="#1c1c1c" stroke-width="2.00" />
<line x1="2.0" y1="0.5" x2="15.5" y2="6.5" stroke="#1c1c1c" stroke-width="0.80" />
<line x1="1.0" y1="0.5" x2="-5.6" y2="7.0" stroke="#1c1c1c" stroke-width="2.00" />
<path d="M -1,-0.5 C -5,-6 -12,-6 -16.5,-1 C -12,4 -6,5 -1,1" fill="none" stroke="#1c1c1c" stroke-width="0.90" stroke-dasharray="2,1.6"/>
<path d="M 4,-4 C 5,-10 7,-14 8,-14.5 C 11,-11 10,-7 5,-3.5" fill="none" stroke="#1c1c1c" stroke-width="0.90" stroke-dasharray="2,1.6"/>
<path d="M 1,2.5 C 3,8 6,13 9.5,15.5 C 11,11 8,6 2,2" fill="none" stroke="#1c1c1c" stroke-width="0.90" stroke-dasharray="2,1.6"/>
</g>
<g transform="translate(317.2,534.3) rotate(180)">
<circle cx="0" cy="0" r="22.3" fill="#fff" stroke="#1c1c1c" stroke-width="1.2"/>
<path d="M 0.4,-1.5 C -5.2,-6 -5.2,-15 0.4,-18.6 C 5.8,-15 5.8,-6 0.4,-1.5 Z" fill="#fff" stroke="#1c1c1c" stroke-width="1.50" />
<line x1="0.4" y1="-2.0" x2="0.4" y2="-18.0" stroke="#1c1c1c" stroke-width="0.80" />
<path d="M 1.5,-0.5 C 6,-3.5 14,-1.5 16.6,7 C 9,9 3,5 1.5,-0.5 Z" fill="#fff" stroke="#1c1c1c" stroke-width="2.00" />
<line x1="2.0" y1="0.5" x2="15.5" y2="6.5" stroke="#1c1c1c" stroke-width="0.80" />
<line x1="1.0" y1="0.5" x2="-5.6" y2="7.0" stroke="#1c1c1c" stroke-width="2.00" />
<path d="M -1,-0.5 C -5,-6 -12,-6 -16.5,-1 C -12,4 -6,5 -1,1" fill="none" stroke="#1c1c1c" stroke-width="0.90" stroke-dasharray="2,1.6"/>
<path d="M 4,-4 C 5,-10 7,-14 8,-14.5 C 11,-11 10,-7 5,-3.5" fill="none" stroke="#1c1c1c" stroke-width="0.90" stroke-dasharray="2,1.6"/>
<path d="M 1,2.5 C 3,8 6,13 9.5,15.5 C 11,11 8,6 2,2" fill="none" stroke="#1c1c1c" stroke-width="0.90" stroke-dasharray="2,1.6"/>
</g>
<rect x="191.4" y="525.7" width="2.9" height="17.9" fill="#fff" stroke="#1c1c1c" stroke-width="1.00" />
<rect x="194.3" y="530.0" width="12.1" height="9.8" fill="#fff" stroke="#1c1c1c" stroke-width="1.30" />
<rect x="206.4" y="531" width="15" height="8" rx="3" fill="#c8c8c8" stroke="#1c1c1c" stroke-width="1"/>
<rect x="221.4" y="525.7" width="6.5" height="17.9" fill="#fff" stroke="#1c1c1c" stroke-width="1.30" />
<rect x="223.4" y="528.7" width="4.5" height="11.9" fill="#fff" stroke="#1c1c1c" stroke-width="0.90" />
<rect x="292.1" y="525.7" width="3.6" height="17.9" fill="#fff" stroke="#1c1c1c" stroke-width="1.00" />
<rect x="280.7" y="530.0" width="11.4" height="9.8" fill="#fff" stroke="#1c1c1c" stroke-width="1.30" />
<rect x="265" y="531" width="15.7" height="8" rx="3" fill="#c8c8c8" stroke="#1c1c1c" stroke-width="1"/>
<rect x="258.6" y="525.7" width="6.4" height="17.9" fill="#fff" stroke="#1c1c1c" stroke-width="1.30" />
<rect x="258.6" y="528.7" width="4.4" height="11.9" fill="#fff" stroke="#1c1c1c" stroke-width="0.90" />
<circle cx="243.6" cy="600.7" r="21.9" fill="#fff" stroke="#1c1c1c" stroke-width="1.2"/>
<ellipse cx="243.2" cy="537" rx="14.2" ry="16" fill="#fff" stroke="#1c1c1c" stroke-width="1.1"/>
<path d="M 231.1,510 C 231.5,502 236,497.9 243.1,497.9 C 250,497.9 254.5,502 255.2,510 C 256.7,518 257.4,528 257.4,537 L 250,553 L 236.3,553 L 229,537 C 229,528 229.6,518 231.1,510 Z" fill="#fff" stroke="#1c1c1c" stroke-width="0.00" />
<path d="M 231.1,510 C 231.5,502 236,497.9 243.1,497.9 C 250,497.9 254.5,502 255.2,510" fill="none" stroke="#1c1c1c" stroke-width="1.35" />
<path d="M 231.1,510 C 229.6,518 229,528 229,537" fill="none" stroke="#1c1c1c" stroke-width="1.30" />
<path d="M 255.2,510 C 256.7,518 257.4,528 257.4,537" fill="none" stroke="#1c1c1c" stroke-width="1.30" />
<path d="M 235,504.3 C 236,520 237.3,560 237.1,590 L 234.3,627 C 234.3,631.5 238.5,634.3 243.2,634.3 C 248,634.3 252.1,631.5 252.1,627 L 249.3,590 C 249.2,560 250.5,520 251.4,504.3" fill="#fff" stroke="#1c1c1c" stroke-width="1.40" />
<path d="M 234.3,516.4 C 232,525 231,533 231.3,544" fill="none" stroke="#1c1c1c" stroke-width="1.00" />
<path d="M 252,516.4 C 254.3,525 255.3,533 255,544" fill="none" stroke="#1c1c1c" stroke-width="1.00" />
<circle cx="433.6" cy="557.1" r="8.2" fill="#fff" stroke="#1c1c1c" stroke-width="1.3"/>
<circle cx="492.1" cy="557.1" r="8.2" fill="#fff" stroke="#1c1c1c" stroke-width="1.3"/>
<circle cx="550.7" cy="557.1" r="8.2" fill="#fff" stroke="#1c1c1c" stroke-width="1.3"/>
<rect x="412.1" y="641.4" width="160.2" height="26.2" fill="#fff" stroke="#1c1c1c" stroke-width="1.30" />
<defs><clipPath id="pl"><rect x="412.1" y="641.4" width="13.6" height="26.2"/><rect x="441.4" y="641.4" width="42.9" height="26.2"/><rect x="500.4" y="641.4" width="42.5" height="26.2"/><rect x="558.6" y="641.4" width="13.7" height="26.2"/></clipPath></defs>
<g clip-path="url(#pl)">
<line x1="370.0" y1="668.0" x2="397.0" y2="641.0" stroke="#3e9a9e" stroke-width="0.90" />
<line x1="382.0" y1="668.0" x2="409.0" y2="641.0" stroke="#3e9a9e" stroke-width="0.90" />
<line x1="394.0" y1="668.0" x2="421.0" y2="641.0" stroke="#3e9a9e" stroke-width="0.90" />
<line x1="406.0" y1="668.0" x2="433.0" y2="641.0" stroke="#3e9a9e" stroke-width="0.90" />
<line x1="418.0" y1="668.0" x2="445.0" y2="641.0" stroke="#3e9a9e" stroke-width="0.90" />
<line x1="430.0" y1="668.0" x2="457.0" y2="641.0" stroke="#3e9a9e" stroke-width="0.90" />
<line x1="442.0" y1="668.0" x2="469.0" y2="641.0" stroke="#3e9a9e" stroke-width="0.90" />
<line x1="454.0" y1="668.0" x2="481.0" y2="641.0" stroke="#3e9a9e" stroke-width="0.90" />
<line x1="466.0" y1="668.0" x2="493.0" y2="641.0" stroke="#3e9a9e" stroke-width="0.90" />
<line x1="478.0" y1="668.0" x2="505.0" y2="641.0" stroke="#3e9a9e" stroke-width="0.90" />
<line x1="490.0" y1="668.0" x2="517.0" y2="641.0" stroke="#3e9a9e" stroke-width="0.90" />
<line x1="502.0" y1="668.0" x2="529.0" y2="641.0" stroke="#3e9a9e" stroke-width="0.90" />
<line x1="514.0" y1="668.0" x2="541.0" y2="641.0" stroke="#3e9a9e" stroke-width="0.90" />
<line x1="526.0" y1="668.0" x2="553.0" y2="641.0" stroke="#3e9a9e" stroke-width="0.90" />
<line x1="538.0" y1="668.0" x2="565.0" y2="641.0" stroke="#3e9a9e" stroke-width="0.90" />
<line x1="550.0" y1="668.0" x2="577.0" y2="641.0" stroke="#3e9a9e" stroke-width="0.90" />
<line x1="562.0" y1="668.0" x2="589.0" y2="641.0" stroke="#3e9a9e" stroke-width="0.90" />
<line x1="574.0" y1="668.0" x2="601.0" y2="641.0" stroke="#3e9a9e" stroke-width="0.90" />
</g>
<line x1="425.7" y1="641.4" x2="425.7" y2="667.6" stroke="#1c1c1c" stroke-width="1.30" />
<line x1="441.4" y1="641.4" x2="441.4" y2="667.6" stroke="#1c1c1c" stroke-width="1.30" />
<line x1="484.3" y1="641.4" x2="484.3" y2="667.6" stroke="#1c1c1c" stroke-width="1.30" />
<line x1="500.4" y1="641.4" x2="500.4" y2="667.6" stroke="#1c1c1c" stroke-width="1.30" />
<line x1="542.9" y1="641.4" x2="542.9" y2="667.6" stroke="#1c1c1c" stroke-width="1.30" />
<line x1="558.6" y1="641.4" x2="558.6" y2="667.6" stroke="#1c1c1c" stroke-width="1.30" />
<line x1="433.8" y1="633.4" x2="433.8" y2="676.4" stroke="#4a9898" stroke-width="1.00" stroke-dasharray="14,3,7,3,16"/>
<line x1="492.1" y1="633.4" x2="492.1" y2="676.4" stroke="#4a9898" stroke-width="1.00" stroke-dasharray="14,3,7,3,16"/>
<line x1="550.6" y1="633.4" x2="550.6" y2="676.4" stroke="#4a9898" stroke-width="1.00" stroke-dasharray="14,3,7,3,16"/>
<line x1="479.7" y1="170.9" x2="479.7" y2="196.0" stroke="#4a9898" stroke-width="1.00" />
<line x1="479.7" y1="193.1" x2="492.0" y2="193.1" stroke="#4a9898" stroke-width="1.00" />
<polygon points="479.7,193.1 487.2,191.6 487.2,194.6" fill="#1e8383"/>
</svg></body></html>
